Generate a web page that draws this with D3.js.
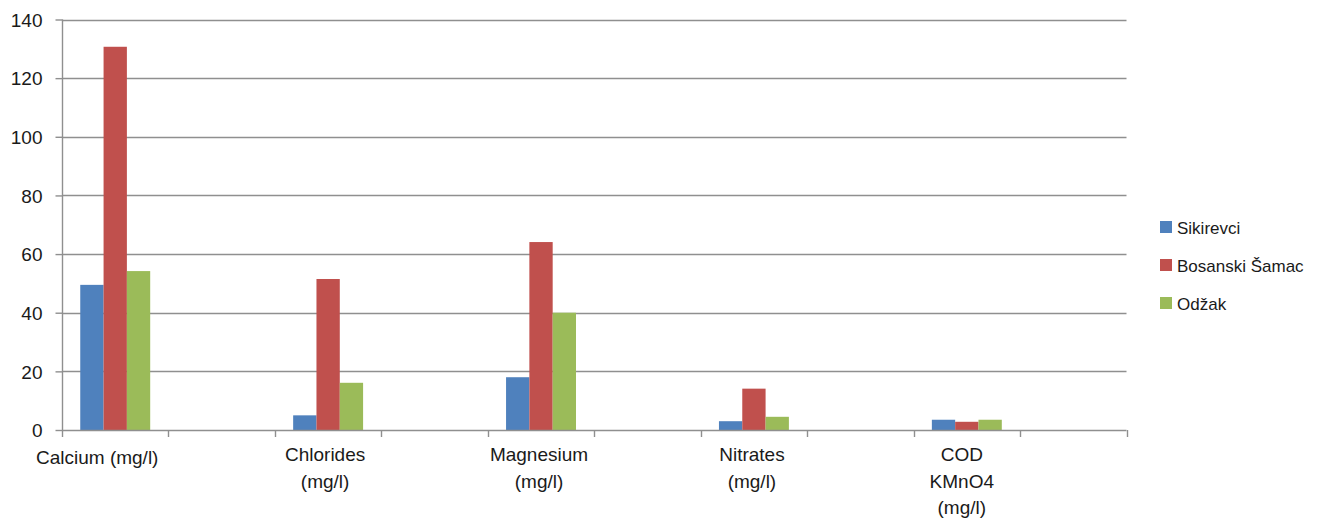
<!DOCTYPE html>
<html>
<head>
<meta charset="utf-8">
<script src="https://cdn.jsdelivr.net/npm/d3@7"></script>
<style>
  html, body { margin: 0; padding: 0; background: #fff; }
  svg { display: block; }
  text { font-family: "Liberation Sans", Arial, sans-serif; fill: #1a1a1a; }
</style>
</head>
<body>
<svg id="chart" width="1319" height="519"></svg>
<script>
// ---- data ----
const categories = ["Calcium (mg/l)", "", "Chlorides\n(mg/l)", "", "Magnesium\n(mg/l)", "", "Nitrates\n(mg/l)", "", "COD\nKMnO4\n(mg/l)", ""];
const seriesNames = ["Sikirevci", "Bosanski Šamac", "Odžak"];
const seriesColors = ["#4F81BD", "#C0504D", "#9BBB59"];
const sikirevci     = [49.5, null,  5.0, null, 18.0, null, 3.0, null, 3.5, null];
const bosanskiSamac = [130.7, null, 51.5, null, 64.1, null, 14.1, null, 2.8, null];
const odzak         = [54.2, null, 16.1, null, 40.0, null, 4.5, null, 3.5, null];
const yTicks = [0, 20, 40, 60, 80, 100, 120, 140];

const seriesValues = [sikirevci, bosanskiSamac, odzak];

// ---- layout ----
const svg = d3.select("#chart");
const plot = { left: 62, right: 1126.5, top: 19.5, bottom: 430 };
const gridColor = "#8f8f8f";

const x = d3.scaleBand()
  .domain(d3.range(categories.length))
  .range([plot.left, plot.right])
  .paddingInner(0).paddingOuter(0);

const xs = d3.scaleBand()
  .domain(d3.range(seriesNames.length))
  .range([0, x.bandwidth()])
  .paddingInner(0).paddingOuter(0.783);

const y = d3.scaleLinear().domain([0, 140]).range([plot.bottom, plot.top]);

// gridlines
svg.append("g")
  .selectAll("line")
  .data(yTicks.filter(d => d > 0))
  .join("line")
  .attr("x1", plot.left).attr("x2", plot.right)
  .attr("y1", d => Math.round(y(d)) + 0.5).attr("y2", d => Math.round(y(d)) + 0.5)
  .attr("stroke", gridColor).attr("stroke-width", 1.4);

// bars
const bars = svg.append("g");
seriesValues.forEach((vals, si) => {
  bars.append("g")
    .selectAll("rect")
    .data(vals.map((v, i) => ({ v, i })).filter(d => d.v != null))
    .join("rect")
    .attr("x", d => x(d.i) + xs(si))
    .attr("width", xs.bandwidth())
    .attr("y", d => y(d.v))
    .attr("height", d => y(0) - y(d.v))
    .attr("fill", seriesColors[si]);
});

// y axis
const yAxis = svg.append("g")
  .attr("transform", `translate(${plot.left + 0.5},0)`)
  .call(d3.axisLeft(y).tickValues(yTicks).tickSize(7).tickPadding(13).tickFormat(d3.format("d")));
yAxis.select(".domain").attr("stroke", gridColor).attr("stroke-width", 1.4)
  .attr("d", `M0,${y(140)}V${y(0)}`);
yAxis.selectAll(".tick line").attr("stroke", gridColor).attr("stroke-width", 1.4);
yAxis.selectAll(".tick text")
  .style("font-size", "19px").style("font-family", "'Liberation Sans', Arial, sans-serif")
  .attr("fill", "#1a1a1a").attr("dy", "0.35em");

// x axis: boundary ticks
const boundaries = d3.range(categories.length + 1).map(i => plot.left + i * x.step());
const xAxisG = svg.append("g");
xAxisG.append("line")
  .attr("x1", plot.left).attr("x2", plot.right)
  .attr("y1", y(0) + 0.5).attr("y2", y(0) + 0.5)
  .attr("stroke", gridColor).attr("stroke-width", 1.4);
xAxisG.selectAll("line.tk")
  .data(boundaries)
  .join("line").attr("class", "tk")
  .attr("x1", d => Math.round(d) + 0.5).attr("x2", d => Math.round(d) + 0.5)
  .attr("y1", y(0)).attr("y2", y(0) + 7)
  .attr("stroke", gridColor).attr("stroke-width", 1.4);

// category labels
const labelShift = [-18, 0, -3, 0, -2, 0, -2, 0, -5, 0];
const labels = svg.append("g").attr("text-anchor", "middle").style("font-size", "19px");
categories.forEach((c, i) => {
  if (!c) return;
  const lines = c.split("\n");
  const t = labels.append("text")
    .attr("x", x(i) + x.bandwidth() / 2 + labelShift[i])
    .attr("y", lines.length === 1 ? 464 : 461);
  lines.forEach((ln, k) => {
    t.append("tspan")
      .attr("x", x(i) + x.bandwidth() / 2 + labelShift[i])
      .attr("dy", k === 0 ? 0 : 26.5)
      .text(ln);
  });
});

// legend
const legend = svg.append("g").attr("transform", "translate(1160,227)");
seriesNames.forEach((name, i) => {
  const g = legend.append("g").attr("transform", `translate(0,${i * 38})`);
  g.append("rect").attr("x", 0).attr("y", -6).attr("width", 12).attr("height", 12)
    .attr("fill", seriesColors[i]);
  g.append("text").attr("x", 17).attr("y", 6.5).style("font-size", "17px").text(name);
});
</script>
</body>
</html>
